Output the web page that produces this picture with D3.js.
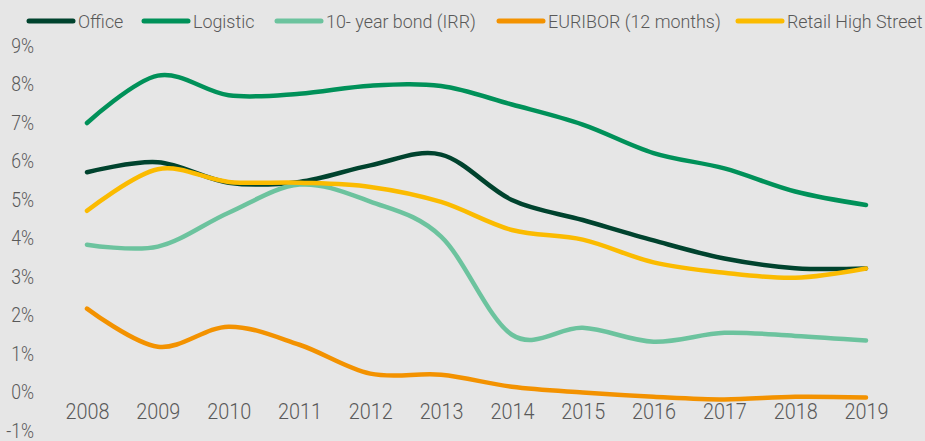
<!DOCTYPE html>
<html>
<head>
<meta charset="utf-8">
<script src="https://cdn.jsdelivr.net/npm/d3@7"></script>
<style>
  html, body { margin: 0; padding: 0; background: #e6e6e6; }
  svg { display: block; }
  text { font-family: Roboto, "Noto Sans", sans-serif; font-weight: 300; fill: #595959; }
</style>
</head>
<body>
<svg id="chart" width="925" height="441"></svg>
<script>
// data (percent)
var years = ["2008","2009","2010","2011","2012","2013","2014","2015","2016","2017","2018","2019"];
var office    = [5.72, 5.98, 5.45, 5.47, 5.90, 6.18, 5.00, 4.48, 3.95, 3.48, 3.23, 3.22];
var logistic  = [7.00, 8.23, 7.72, 7.76, 7.97, 7.96, 7.48, 6.96, 6.22, 5.82, 5.22, 4.87];
var bond      = [3.84, 3.79, 4.67, 5.40, 4.96, 4.05, 1.50, 1.68, 1.32, 1.55, 1.47, 1.35];
var euribor   = [2.18, 1.19, 1.71, 1.24, 0.49, 0.46, 0.15, 0.00, -0.11, -0.18, -0.11, -0.13];
var retail    = [4.72, 5.80, 5.47, 5.45, 5.34, 4.95, 4.22, 3.97, 3.38, 3.11, 2.98, 3.22];
var yTicks    = [-1, 0, 1, 2, 3, 4, 5, 6, 7, 8, 9];

var seriesNames  = ["Office", "Logistic", "10- year bond (IRR)", "EURIBOR (12 months)", "Retail High Street"];
var seriesValues = [office, logistic, bond, euribor, retail];
var seriesColors = ["#00432e", "#009159", "#6cc39e", "#f39200", "#fbbb00"];

var svg = d3.select("#chart");

var x = d3.scalePoint().domain(years).range([87, 866]);
var y = d3.scaleLinear().domain([-1, 9]).range([431, 46]);

// the original font is a narrow one, squeeze Roboto a bit
function condense(sel, k) {
    sel.each(function(){
        var w = this.getComputedTextLength();
        d3.select(this).attr("textLength", w * k).attr("lengthAdjust", "spacingAndGlyphs");
    });
}

// y axis labels
var yAxis = d3.axisLeft(y).tickValues(yTicks)
    .tickFormat(function(d){ return d + "%"; })
    .tickSize(0).tickPadding(0);
svg.append("g")
    .attr("transform", "translate(34,0)")
    .call(yAxis)
    .call(function(g){
        g.select(".domain").remove();
        g.attr("font-family", null).attr("font-size", null);
        g.selectAll("text").style("font-size", "20px").attr("fill", "#595959").call(condense, 0.88);
    });

// x axis labels, axis crosses at 0
var xAxis = d3.axisBottom(x).tickSize(0).tickPadding(11);
svg.append("g")
    .attr("transform", "translate(0," + y(0) + ")")
    .call(xAxis)
    .call(function(g){
        g.select(".domain").remove();
        g.attr("font-family", null).attr("font-size", null);
        g.selectAll("text").style("font-size", "22px").attr("fill", "#595959").call(condense, 0.9);
    });

// smoothed lines
var line = d3.line()
    .x(function(d, i){ return x(years[i]); })
    .y(function(d){ return y(d); })
    .curve(d3.curveCardinal.tension(0));

svg.append("g").selectAll("path")
    .data(seriesValues)
    .enter().append("path")
    .attr("d", line)
    .attr("fill", "none")
    .attr("stroke", function(d, i){ return seriesColors[i]; })
    .attr("stroke-width", 4.5)
    .attr("stroke-linecap", "round")
    .attr("stroke-linejoin", "round");

// legend
var legendX = [29, 144, 277, 499, 738];
var legend = svg.append("g").selectAll("g")
    .data(seriesNames)
    .enter().append("g")
    .attr("transform", function(d, i){ return "translate(" + legendX[i] + ",21)"; });

legend.append("line")
    .attr("x1", 0).attr("x2", 44)
    .attr("stroke", function(d, i){ return seriesColors[i]; })
    .attr("stroke-width", 5)
    .attr("stroke-linecap", "round");

legend.append("text")
    .attr("x", 49)
    .attr("dy", "0.35em")
    .style("font-size", "19px")
    .text(function(d){ return d; })
    .call(condense, 0.94);
</script>
</body>
</html>
